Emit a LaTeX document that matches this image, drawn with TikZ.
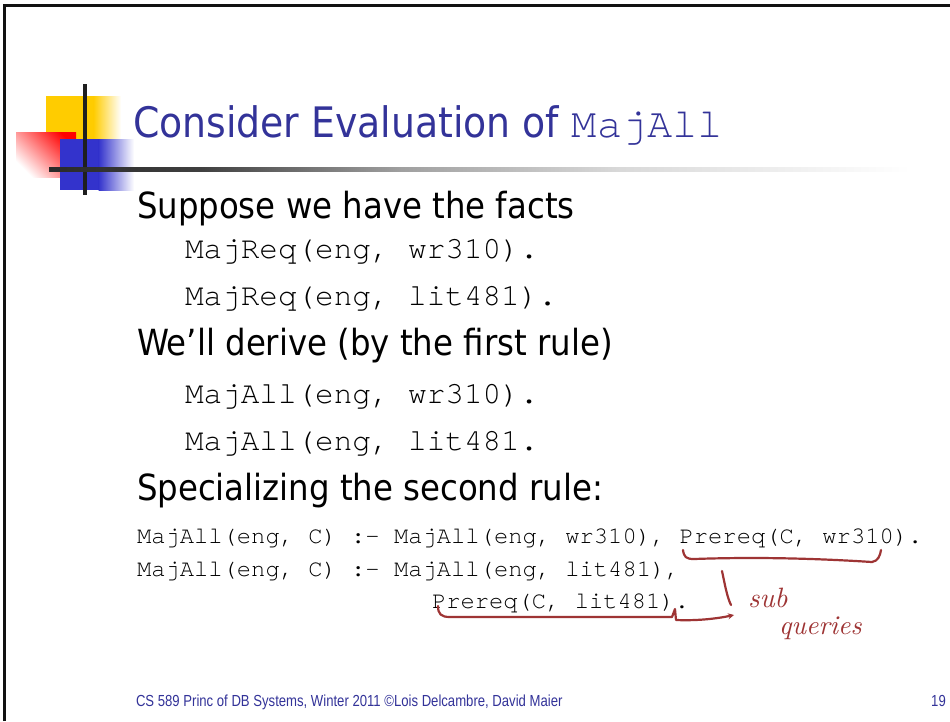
\documentclass[tikz,border=0pt]{standalone}
\usepackage{fontspec}
\setmainfont{DejaVu Sans Condensed}
\setmonofont{texgyrecursor-regular.otf}
\newfontfamily\footfont[FakeStretch=0.82]{Liberation Sans}
\newfontfamily\handfont{lmroman10-italic.otf}
\usetikzlibrary{arrows.meta}

\definecolor{titleblue}{HTML}{333399}
\definecolor{padyellow}{HTML}{FFCC00}
\definecolor{padred}{HTML}{FF0000}
\definecolor{padblue}{HTML}{3333CC}
\definecolor{rulegray}{HTML}{2A2A2A}
\definecolor{ink}{HTML}{9E3434}

\tikzset{
  txt/.style={anchor=base west, inner sep=0pt, outer sep=0pt},
  bodytext/.style={txt, font=\fontsize{36}{42}\selectfont},
  bigcode/.style={txt, font=\ttfamily\fontsize{31}{36}\selectfont},
  smallcode/.style={txt, font=\ttfamily\fontsize{23.8}{28}\selectfont},
  frame/.style={draw=black!93, line width=2.6pt},
  ink/.style={draw=ink, line width=2.2pt, line cap=round, line join=round},
  handtext/.style={anchor=base west, inner sep=0pt, text=ink, font=\handfont},
}

\begin{document}
\begin{tikzpicture}[x=1pt, y=-1pt]
\useasboundingbox (0,0) rectangle (950,721);
\fill[white] (0,0) rectangle (950,721);

% slide frame
\draw[frame] (4.5,721) -- (4.5,5.5) -- (950,5.5);

% corner ornament: coloured squares
\fill[padyellow] (46,96) rectangle (94,140);
\shade[left color=padyellow, right color=white] (93.5,96) rectangle (121,140);
\shade[top color=padred, bottom color=white, shading angle=-45] (16,132) rectangle (76,177);
\fill[padblue] (60,139) rectangle (99,190);
\shade[left color=padblue, right color=white] (98.5,139) rectangle (134,190);

% ornament cross lines
\draw[line width=4pt, draw=black!88] (85,84) -- (85,195);
\shade[left color=rulegray, right color=rulegray!90!white] (49,167) rectangle (200,171);
\shade[left color=rulegray!90!white, right color=rulegray!45!white] (199.5,167) rectangle (400,171);
\shade[left color=rulegray!45!white, right color=rulegray!18!white] (399.5,167) rectangle (620,171);
\shade[left color=rulegray!18!white, right color=white] (619.5,167) rectangle (910,171);

% title
\node[txt, text=titleblue, font=\fontsize{42}{48}\selectfont] (title) at (133,137)
  {Consider Evaluation of \texttt{MajAll}};

% body
\node[bodytext] (facts) at (137,218) {Suppose we have the facts};
\node[bigcode] (req1) at (185,258) {MajReq(eng, wr310).};
\node[bigcode] (req2) at (185,305) {MajReq(eng, lit481).};
\node[bodytext] (derive) at (137,355) {We’ll derive (by the first rule)};
\node[bigcode] (all1) at (185,403) {MajAll(eng, wr310).};
\node[bigcode] (all2) at (185,450) {MajAll(eng, lit481.};
\node[bodytext] (special) at (137,500) {Specializing the second rule:};
\node[smallcode] (rule1) at (137,543) {MajAll(eng, C) :- MajAll(eng, wr310), Prereq(C, wr310).};
\node[smallcode] (rule2) at (137,576) {MajAll(eng, C) :- MajAll(eng, lit481),};
\node[smallcode] (rule3) at (432,608) {Prereq(C, lit481).};

% handwritten annotation
\draw[ink] (683,550) .. controls (684,557) and (686,559) .. (694,559)
  .. controls (750,557) and (810,558) .. (872,562)
  .. controls (878,561) and (880,556) .. (881,550);
\draw[ink] (722,571) .. controls (725,585) and (727,597) .. (731,605);
\draw[ink, -{Stealth[length=6pt, width=6pt]}] (438,606) .. controls (438,614) and (441,617) .. (450,617)
  -- (672,617) -- (675,609) -- (676,620)
  .. controls (700,621) and (720,618) .. (734,615);
\node[handtext, font=\handfont\fontsize{28}{32}\selectfont] (sub) at (748,607) {sub};
\node[handtext, font=\handfont\fontsize{27}{30}\selectfont] (queries) at (779,634) {queries};

% footer
\node[txt, text=titleblue, font=\footfont\fontsize{16}{19}\selectfont] (foot) at (136,706)
  {CS 589 Princ of DB Systems, Winter 2011 ©Lois Delcambre, David Maier};
\node[anchor=base east, inner sep=0pt, text=titleblue, font=\footfont\fontsize{16}{19}\selectfont] (page) at (946,706) {19};
\end{tikzpicture}
\end{document}
